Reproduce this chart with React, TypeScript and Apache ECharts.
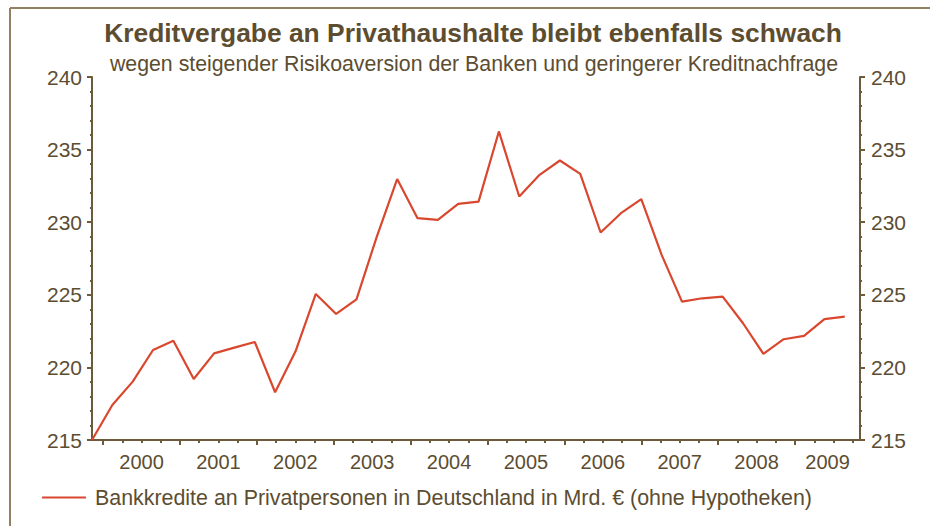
import React, { useEffect, useRef } from 'react';
import * as echarts from 'echarts';

const TITLE = 'Kreditvergabe an Privathaushalte bleibt ebenfalls schwach';
const SUBTITLE = 'wegen steigender Risikoaversion der Banken und geringerer Kreditnachfrage';
const SERIES_NAME = 'Bankkredite an Privatpersonen in Deutschland in Mrd. € (ohne Hypotheken)';

// Credit volume (bn €), roughly one observation per quarter, 1999/2000 .. 2009
const values = [
  215.0, 217.41, 219.02, 221.2, 221.84, 219.2, 220.97, 221.36, 221.75, 218.29,
  221.09, 225.06, 223.68, 224.69, 229.01, 232.97, 230.28, 230.16, 231.26, 231.42,
  236.25, 231.77, 233.26, 234.25, 233.33, 229.29, 230.62, 231.59, 227.75, 224.53,
  224.76, 224.88, 223.04, 220.93, 221.94, 222.17, 223.32, 223.5,
];

const years = ['2000', '2001', '2002', '2003', '2004', '2005', '2006', '2007', '2008', '2009'];

const Y_MIN = 215;
const Y_MAX = 240;
const Y_STEP = 5;

// data axis (observation index) and time axis (quarters since start of 2000)
const IDX_MIN = 0;
const IDX_MAX = 37.75;
const T_MIN = -0.58;
const T_MAX = 39.38;
const Q_PER_YEAR = 4;

const AXIS = '#6b5a3c';
const TEXT = '#5c4d31';
const LINE = '#d9472f';
const FONT = 'Liberation Sans, Arial, sans-serif';

export default function App() {
  const ref = useRef<HTMLDivElement>(null);

  useEffect(() => {
    if (!ref.current) return;
    const chart = echarts.init(ref.current, null, { renderer: 'svg' });

    const majorTicks = years.map((_, i) => i * Q_PER_YEAR);
    const minorTicks: number[] = [];
    for (let q = 0; q <= Math.floor(T_MAX); q++) if (q % Q_PER_YEAR !== 0) minorTicks.push(q);
    const labelPos = years.map((_, i) => (i * Q_PER_YEAR + Math.min((i + 1) * Q_PER_YEAR, T_MAX)) / 2);

    const yAxisBase = (pos: 'left' | 'right', margin: number) => ({
      type: 'value',
      position: pos,
      min: Y_MIN,
      max: Y_MAX,
      interval: Y_STEP,
      axisLine: { show: true, onZero: false, lineStyle: { color: AXIS, width: 2 } },
      axisTick: { show: true, length: 5, lineStyle: { color: AXIS, width: 2 } },
      minorTick: { show: true, splitNumber: 5, length: 2, lineStyle: { color: AXIS, width: 2 } },
      splitLine: { show: false },
      axisLabel: { color: TEXT, fontSize: 21, fontFamily: FONT, margin },
    });

    chart.setOption({
      animation: false,
      backgroundColor: '#ffffff',
      grid: { left: 92, right: 70, top: 77, bottom: 86, containLabel: false },
      graphic: [
        { type: 'line', shape: { x1: 10, y1: 8, x2: 930, y2: 8 }, style: { stroke: '#8f8162', lineWidth: 2 } },
        { type: 'line', shape: { x1: 10, y1: 8, x2: 10, y2: 526 }, style: { stroke: '#8f8162', lineWidth: 2 } },
        {
          type: 'text', x: 473, y: 46,
          style: {
            text: TITLE, fill: TEXT, fontSize: 26.4, fontWeight: 'bold',
            fontFamily: FONT, textAlign: 'center', textVerticalAlign: 'bottom',
          },
        },
        {
          type: 'text', x: 474, y: 74,
          style: {
            text: SUBTITLE, fill: TEXT, fontSize: 21.3,
            fontFamily: FONT, textAlign: 'center', textVerticalAlign: 'bottom',
          },
        },
      ],
      legend: {
        show: true,
        left: 42,
        top: 487,
        padding: 0,
        icon: 'rect',
        itemWidth: 44,
        itemHeight: 2,
        data: [SERIES_NAME],
        textStyle: { color: TEXT, fontSize: 21.4, fontFamily: FONT, padding: [0, 0, 0, 4] },
      },
      xAxis: [
        {
          type: 'value', position: 'bottom', min: IDX_MIN, max: IDX_MAX,
          axisLine: { show: true, onZero: false, lineStyle: { color: AXIS, width: 2 } },
          axisTick: { show: false }, axisLabel: { show: false }, splitLine: { show: false },
        },
        {
          type: 'value', position: 'bottom', min: T_MIN, max: T_MAX,
          axisLine: { show: false, onZero: false },
          axisTick: { show: true, length: 5, customValues: majorTicks, lineStyle: { color: AXIS, width: 2 } },
          axisLabel: {
            show: true, customValues: labelPos, margin: 12, color: TEXT, fontSize: 20,
            fontFamily: FONT,
            formatter: (v: number) => years[Math.floor(v / Q_PER_YEAR)] ?? '',
          },
          splitLine: { show: false },
        },
        {
          type: 'value', position: 'bottom', min: T_MIN, max: T_MAX,
          axisLine: { show: false, onZero: false },
          axisTick: { show: true, length: 3, customValues: minorTicks, lineStyle: { color: AXIS, width: 2 } },
          axisLabel: { show: false },
          splitLine: { show: false },
        },
      ],
      yAxis: [yAxisBase('left', 10), yAxisBase('right', 11)],
      series: [
        {
          name: SERIES_NAME,
          type: 'line',
          xAxisIndex: 0,
          yAxisIndex: 0,
          data: values.map((v, i) => [i, v]),
          showSymbol: false,
          symbol: 'none',
          lineStyle: { color: LINE, width: 2.2 },
          itemStyle: { color: LINE },
          clip: true,
        },
      ],
    });

    return () => chart.dispose();
  }, []);

  return <div ref={ref} style={{ width: 930, height: 526, position: 'absolute', left: 0, top: 0 }} />;
}
